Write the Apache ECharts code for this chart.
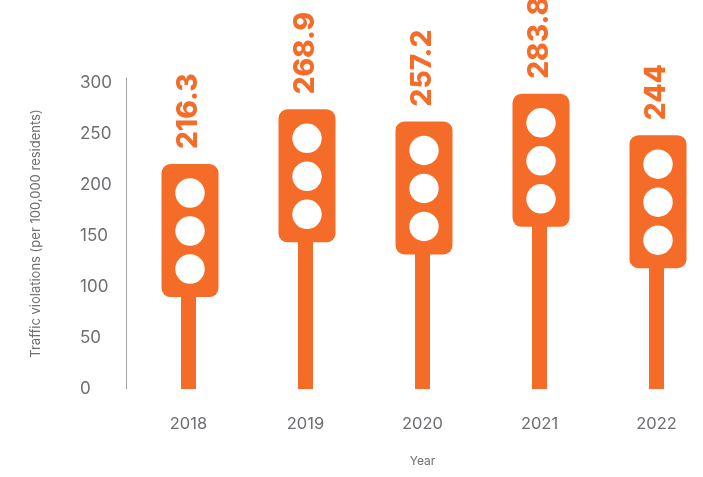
<!DOCTYPE html>
<html>
<head>
<meta charset="utf-8">
<style>html,body{margin:0;padding:0;background:#fff}#chart{width:703px;height:477px}</style>
<script src="https://cdn.jsdelivr.net/npm/echarts@6/dist/echarts.min.js"></script>
</head>
<body>
<div id="chart"></div>
<script>
const years = ['2018', '2019', '2020', '2021', '2022'];
const violations = [216.3, 268.9, 257.2, 283.8, 244];
const yTicks = [0, 50, 100, 150, 200, 250, 300];

const orange = '#f46c27';
const grey = '#6d6e71';
const font = 'Inter';

const drawLight = (params, api) => {
  const i = api.value(0);
  const top = api.coord([i, api.value(1)]);
  const base = api.coord([i, 0]);
  const cx = top[0] + 1.5;
  const shapes = [
    { type: 'rect', shape: { x: top[0] - 7.5, y: top[1] + 100, width: 15, height: base[1] - top[1] - 100 }, style: { fill: orange } },
    { type: 'rect', shape: { x: cx - 28.5, y: top[1], width: 57, height: 133, r: 9 }, style: { fill: orange } }
  ];
  [29, 67, 105].forEach(d => {
    shapes.push({ type: 'circle', shape: { cx: cx, cy: top[1] + d, r: 14.7 }, style: { fill: '#fff' } });
  });
  shapes.push({
    type: 'text',
    x: cx - 1,
    y: top[1] - 15,
    rotation: Math.PI / 2,
    style: {
      text: String(api.value(1)),
      font: '800 28px Inter',
      fill: orange,
      align: 'left',
      verticalAlign: 'middle'
    }
  });
  return { type: 'group', children: shapes };
};

const chart = echarts.init(document.getElementById('chart'), null, { renderer: 'canvas' });
chart.setOption({
  animation: false,
  grid: { left: 130, width: 585, top: 78, bottom: 88, outerBoundsMode: 'none' },
  xAxis: {
    type: 'category',
    data: years,
    name: 'Year',
    nameLocation: 'middle',
    nameGap: 66,
    nameTextStyle: { color: grey, fontSize: 12, fontFamily: font },
    axisLine: { show: false },
    axisTick: { show: false },
    axisLabel: { color: grey, fontSize: 16.5, fontFamily: font, margin: 27 }
  },
  yAxis: [
    {
      type: 'value',
      min: 0,
      max: 305,
      interval: 50,
      offset: 4,
      name: 'Traffic violations (per 100,000 residents)',
      nameLocation: 'middle',
      nameGap: 83,
      nameTextStyle: { color: grey, fontSize: 13, fontFamily: font },
      splitLine: { show: false },
      axisTick: { show: false },
      axisLine: { show: true, lineStyle: { color: '#a6a6a6', width: 1 } },
      axisLabel: {
        color: grey,
        fontSize: 17,
        fontFamily: font,
        margin: 46,
        align: 'left',
        showMaxLabel: false,
        formatter: v => (yTicks.includes(v) ? String(v) : '')
      }
    },
    { type: 'value', min: 0, max: 299, show: false }
  ],
  series: [{
    type: 'custom',
    yAxisIndex: 1,
    clip: false,
    renderItem: drawLight,
    encode: { x: 0, y: 1 },
    data: violations.map((v, i) => [i, v])
  }]
});
</script>
</body>
</html>
